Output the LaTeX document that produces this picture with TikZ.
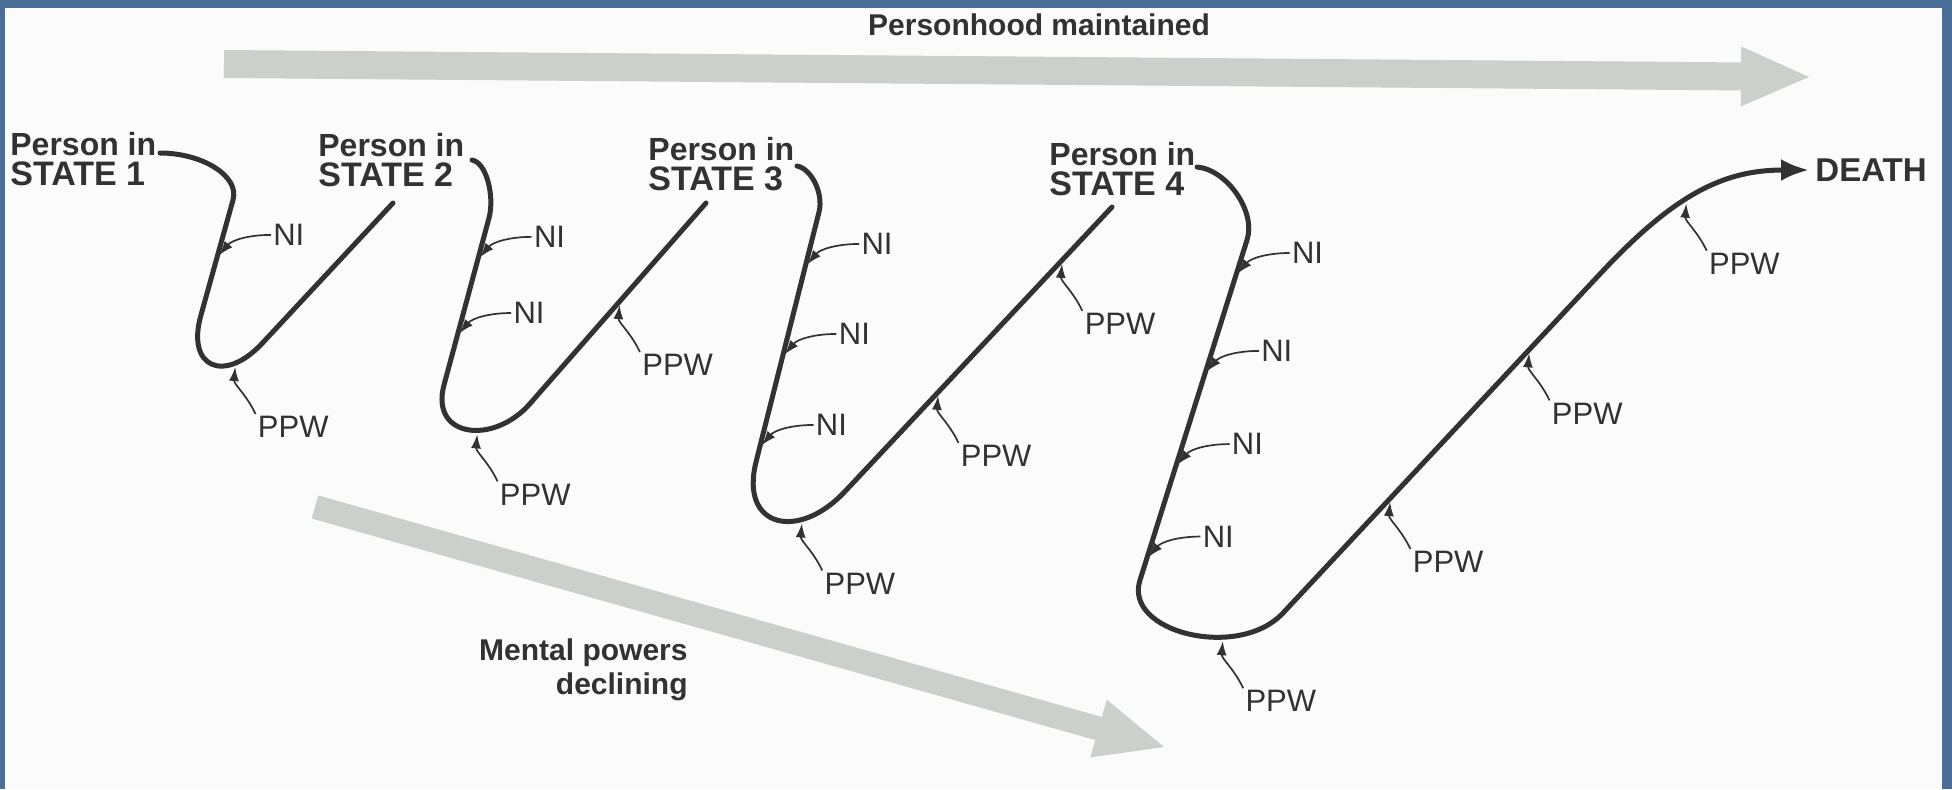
\documentclass[tikz,border=0pt]{standalone}
\usepackage{fontspec}
\setmainfont{Liberation Sans}
\usetikzlibrary{positioning,calc,arrows.meta}
\definecolor{framecol}{RGB}{74,110,152}
\definecolor{pagecol}{RGB}{250,251,250}
\definecolor{bandgray}{RGB}{203,208,204}
\definecolor{ink}{RGB}{50,50,50}

\begin{document}
\begin{tikzpicture}[x=0.5pt, y=0.5pt,
    every node/.style={inner sep=1pt, text=ink},
    wave/.style={draw=ink, line width=2.5pt, line cap=round},
    pointer/.style={-{Latex[length=7pt,width=5pt]}, draw=ink, line width=0.85pt, shorten >=2pt},
    band/.style={fill=bandgray},
    statelabel/.style={anchor=north west, align=left, font=\fontsize{16}{15}\selectfont\bfseries},
    nilabel/.style={font=\fontsize{15.5}{16}\selectfont},
    ppwlabel/.style={font=\fontsize{15.5}{16}\selectfont}]

    \useasboundingbox (0,0) rectangle (1952,-789);
    \fill[framecol] (0,0) rectangle (1952,-789);
    \fill[pagecol] (5,-8) rectangle (1942,-789);

    \coordinate (up0) at (224,-64);
    \coordinate (up1) at (1809,-77);
    \coordinate (up2) at ($(up1)!34pt!(up0)$);
    \fill[band] ($(up0)!7pt!90:(up1)$) -- ($(up2)!7pt!-90:(up0)$) -- ($(up2)!15pt!-90:(up0)$) -- (up1)
        -- ($(up2)!15pt!90:(up0)$) -- ($(up2)!7pt!90:(up0)$) -- ($(up0)!7pt!-90:(up1)$) -- cycle;

    \coordinate (dn0) at (315,-507);
    \coordinate (dn1) at (1164,-747);
    \coordinate (dn2) at ($(dn1)!34pt!(dn0)$);
    \fill[band] ($(dn0)!6pt!90:(dn1)$) -- ($(dn2)!6pt!-90:(dn0)$) -- ($(dn2)!15pt!-90:(dn0)$) -- (dn1)
        -- ($(dn2)!15pt!90:(dn0)$) -- ($(dn2)!6pt!90:(dn0)$) -- ($(dn0)!6pt!-90:(dn1)$) -- cycle;

    \node (keep) at (1039,-25) [font=\fontsize{15}{15}\selectfont\bfseries] {Personhood maintained};
    \node (decline) at (690,-636) [anchor=north east, align=right, font=\fontsize{15}{17}\selectfont\bfseries] {Mental powers\\declining};

    \node (st1) at (8,-130) [statelabel] {Person in\\{\fontsize{17}{15}\selectfont STATE 1}};
    \node (st2) at (316,-131) [statelabel] {Person in\\{\fontsize{17}{15}\selectfont STATE 2}};
    \node (st3) at (646,-135) [statelabel] {Person in\\{\fontsize{17}{15}\selectfont STATE 3}};
    \node (st4) at (1047,-140) [statelabel] {Person in\\{\fontsize{17}{15}\selectfont STATE 4}};
    \node (death) at (1813,-170) [anchor=west, font=\fontsize{16.5}{16}\selectfont\bfseries] {DEATH};

    \coordinate (s1) at (160,-153);
    \coordinate (k1) at (233,-200);
    \coordinate (u1) at (201,-315);
    \coordinate (r1) at (262,-343.5);
    \coordinate (e1) at (393,-203);

    \coordinate (s2) at (472,-160);
    \coordinate (k2) at (489,-218);
    \coordinate (u2) at (444,-385);
    \coordinate (r2) at (530,-403.6);
    \coordinate (e2) at (706,-203);

    \coordinate (s3) at (797,-166);
    \coordinate (k3) at (819,-212);
    \coordinate (u3) at (756,-462);
    \coordinate (r3) at (845,-491.4);
    \coordinate (e3) at (1112,-207);

    \coordinate (s4) at (1197,-167);
    \coordinate (k4) at (1247,-240);
    \coordinate (u4) at (1140,-580);
    \coordinate (r4) at (1283,-613);
    \coordinate (d4) at (1599,-275);

    \path[wave] (s1) .. controls +(0:42) and +(74:25) .. (k1)
        -- (u1) coordinate[pos=0.504] (n1a)
        .. controls +(254:55) and +(227:55) .. (r1) coordinate[pos=0.76] (p1a)
        -- (e1);
    \path[wave] (s2) .. controls +(-10:15) and +(75:22) .. (k2)
        -- (u2) coordinate[pos=0.251] (n2a) coordinate[pos=0.707] (n2b)
        .. controls +(255:55) and +(229:55) .. (r2) coordinate[pos=0.58] (p2a)
        -- (e2) coordinate[pos=0.511] (p2b);
    \path[wave] (s3) .. controls +(-10:14) and +(76:20) .. (k3)
        -- (u3) coordinate[pos=0.22] (n3a) coordinate[pos=0.58] (n3b) coordinate[pos=0.944] (n3c)
        .. controls +(256:68) and +(227:68) .. (r3) coordinate[pos=0.7] (p3a)
        -- (e3) coordinate[pos=0.35] (p3b) coordinate[pos=0.814] (p3c);
    \path[wave, -{Latex[length=14pt,width=11pt]}, shorten >=2pt] (s4) .. controls +(-5:30) and +(72:30) .. (k4)
        -- (u4) coordinate[pos=0.106] (n4a) coordinate[pos=0.394] (n4b) coordinate[pos=0.668] (n4c) coordinate[pos=0.94] (n4d)
        .. controls +(252:55) and +(227:65) .. (r4) coordinate[pos=0.67] (p4a)
        -- (d4) coordinate[pos=0.34] (p4b) coordinate[pos=0.78] (p4c)
        .. controls +(47:110) and +(180:90) .. (death.west) coordinate[pos=0.43] (p4d);

    \node (ni1a) [nilabel, above right=5pt and 27pt of n1a] {NI};
    \node (ni2a) [nilabel, above right=5pt and 27pt of n2a] {NI};
    \node (ni2b) [nilabel, above right=5pt and 27pt of n2b] {NI};
    \node (ni3a) [nilabel, above right=5pt and 27pt of n3a] {NI};
    \node (ni3b) [nilabel, above right=5pt and 27pt of n3b] {NI};
    \node (ni3c) [nilabel, above right=5pt and 27pt of n3c] {NI};
    \node (ni4a) [nilabel, above right=5pt and 27pt of n4a] {NI};
    \node (ni4b) [nilabel, above right=5pt and 27pt of n4b] {NI};
    \node (ni4c) [nilabel, above right=5pt and 27pt of n4c] {NI};
    \node (ni4d) [nilabel, above right=5pt and 27pt of n4d] {NI};

    \node (ppw1a) [ppwlabel, below right=25.5pt and 10pt of p1a] {PPW};
    \node (ppw2a) [ppwlabel, below right=25.5pt and 10pt of p2a] {PPW};
    \node (ppw2b) [ppwlabel, below right=25.5pt and 10pt of p2b] {PPW};
    \node (ppw3a) [ppwlabel, below right=25.5pt and 10pt of p3a] {PPW};
    \node (ppw3b) [ppwlabel, below right=25.5pt and 10pt of p3b] {PPW};
    \node (ppw3c) [ppwlabel, below right=25.5pt and 10pt of p3c] {PPW};
    \node (ppw4a) [ppwlabel, below right=25.5pt and 10pt of p4a] {PPW};
    \node (ppw4b) [ppwlabel, below right=25.5pt and 10pt of p4b] {PPW};
    \node (ppw4c) [ppwlabel, below right=25.5pt and 10pt of p4c] {PPW};
    \node (ppw4d) [ppwlabel, below right=25.5pt and 10pt of p4d] {PPW};

    \draw[pointer] (ni1a.west) to[out=180, in=50] (n1a);
    \draw[pointer] (ni2a.west) to[out=180, in=50] (n2a);
    \draw[pointer] (ni2b.west) to[out=180, in=50] (n2b);
    \draw[pointer] (ni3a.west) to[out=180, in=50] (n3a);
    \draw[pointer] (ni3b.west) to[out=180, in=50] (n3b);
    \draw[pointer] (ni3c.west) to[out=180, in=50] (n3c);
    \draw[pointer] (ni4a.west) to[out=180, in=50] (n4a);
    \draw[pointer] (ni4b.west) to[out=180, in=50] (n4b);
    \draw[pointer] (ni4c.west) to[out=180, in=50] (n4c);
    \draw[pointer] (ni4d.west) to[out=180, in=50] (n4d);

    \draw[pointer] (ppw1a.north west) to[out=115, in=-95] (p1a);
    \draw[pointer] (ppw2a.north west) to[out=115, in=-95] (p2a);
    \draw[pointer] (ppw2b.north west) to[out=115, in=-95] (p2b);
    \draw[pointer] (ppw3a.north west) to[out=115, in=-95] (p3a);
    \draw[pointer] (ppw3b.north west) to[out=115, in=-95] (p3b);
    \draw[pointer] (ppw3c.north west) to[out=115, in=-95] (p3c);
    \draw[pointer] (ppw4a.north west) to[out=115, in=-95] (p4a);
    \draw[pointer] (ppw4b.north west) to[out=115, in=-95] (p4b);
    \draw[pointer] (ppw4c.north west) to[out=115, in=-95] (p4c);
    \draw[pointer] (ppw4d.north west) to[out=115, in=-95] (p4d);
\end{tikzpicture}
\end{document}
